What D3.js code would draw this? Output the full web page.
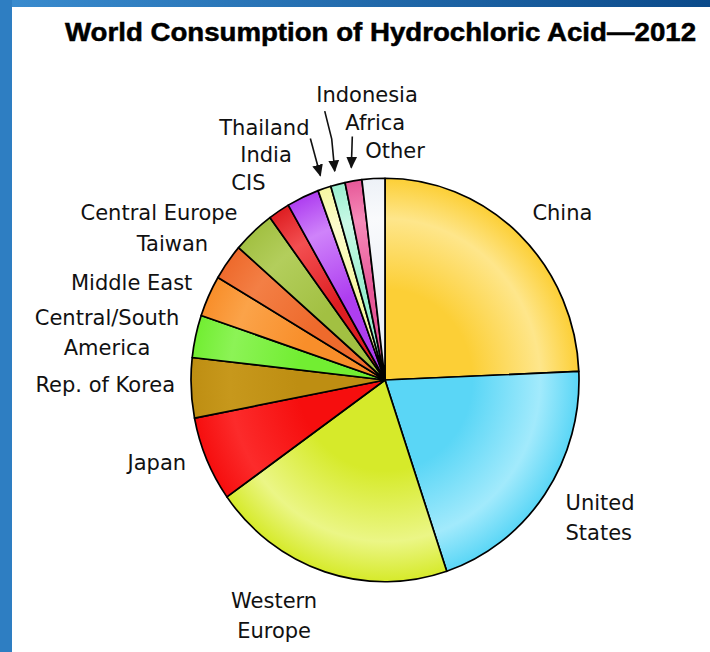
<!DOCTYPE html>
<html>
<head>
<meta charset="utf-8">
<script src="https://cdn.jsdelivr.net/npm/d3@7"></script>
<style>
  html, body { margin: 0; padding: 0; background: #fff; }
  svg { display: block; }
</style>
</head>
<body>
<svg id="chart" width="710" height="652"></svg>
<script>
// Share of world hydrochloric acid consumption, 2012 (percent), clockwise from 12 o'clock
const regions = ["China", "United States", "Western Europe", "Japan", "Rep. of Korea",
  "Central/South America", "Middle East", "Taiwan", "Central Europe", "CIS",
  "India", "Thailand", "Indonesia", "Africa", "Other"];
const shares = [24.3, 20.5, 20.3, 6.8, 4.8, 3.4, 3.3, 2.9, 3.5, 1.8, 2.7, 1.1, 1.2, 1.4, 1.9];
// label text lines for each region
const labelLines = [["China"], ["United", "States"], ["Western", "Europe"], ["Japan"], ["Rep. of Korea"],
  ["Central/South", "America"], ["Middle East"], ["Taiwan"], ["Central Europe"], ["CIS"],
  ["India"], ["Thailand"], ["Indonesia"], ["Africa"], ["Other"]];

const baseColors = ["#fccf36", "#5ad6f6", "#d6ea2a", "#f60e0e", "#be8e12",
  "#72ee32", "#f88e2a", "#ee6a2c", "#a2c042", "#de1e22",
  "#ae3ef0", "#f6f6a2", "#9aefcf", "#e65898", "#edf1f7"];
const lightColors = ["#fff2b8", "#c8f4ff", "#f6fdb8", "#ff3a3a", "#cc9e22",
  "#9af66a", "#fcae5a", "#f68a52", "#bcd66a", "#ff6a6a",
  "#e0a8ff", "#ffffe2", "#e2fff2", "#ffa6ca", "#ffffff"];

const svg = d3.select("#chart");
const W = 710, H = 652;

// page frame
const defs = svg.append("defs");
const topGrad = defs.append("linearGradient").attr("id", "frameTop").attr("x1", 0).attr("x2", 1);
topGrad.append("stop").attr("offset", 0).attr("stop-color", "#3a8ccf");
topGrad.append("stop").attr("offset", 1).attr("stop-color", "#0b4a8a");
svg.append("rect").attr("x", 0).attr("y", 0).attr("width", W).attr("height", H).attr("fill", "#fff");
svg.append("rect").attr("x", 0).attr("y", 0).attr("width", W).attr("height", 7).attr("fill", "url(#frameTop)");
svg.append("rect").attr("x", 0).attr("y", 0).attr("width", 12).attr("height", H).attr("fill", "#2e7ec2");

// title
svg.append("text")
  .attr("x", 65).attr("y", 41)
  .attr("textLength", 631).attr("lengthAdjust", "spacingAndGlyphs")
  .style("font-family", "'Liberation Sans Narrow', 'Liberation Sans', Arial, sans-serif")
  .style("font-weight", "bold").style("font-size", "25px")
  .attr("fill", "#000")
  .attr("stroke", "#000").attr("stroke-width", 0.5)
  .text("World Consumption of Hydrochloric Acid\u20142012");

// pie geometry (slightly taller than wide)
const cx = 385, cy = 380, R = 194, ky = 1.04;

const pie = d3.pie().sort(null).value(d => d);
const arcs = pie(shares);
const arc = d3.arc().innerRadius(0).outerRadius(R);

arcs.forEach((a, i) => {
  const hi = d3.interpolateRgb(baseColors[i], lightColors[i])(0.65);
  const g = defs.append("radialGradient")
    .attr("id", "sg" + i).attr("gradientUnits", "userSpaceOnUse")
    .attr("cx", 0).attr("cy", 0).attr("r", R);
  g.append("stop").attr("offset", 0).attr("stop-color", baseColors[i]);
  g.append("stop").attr("offset", 0.45).attr("stop-color", baseColors[i]);
  g.append("stop").attr("offset", 0.8).attr("stop-color", hi);
  g.append("stop").attr("offset", 1).attr("stop-color", baseColors[i]);
});

const pieG = svg.append("g").attr("transform", `translate(${cx},${cy}) scale(1,${ky})`);
pieG.selectAll("path.slice")
  .data(arcs)
  .join("path")
  .attr("class", "slice")
  .attr("d", arc)
  .attr("fill", (d, i) => `url(#sg${i})`)
  .attr("stroke", "#000")
  .attr("stroke-width", 1.7)
  .attr("stroke-linejoin", "round")
  .attr("vector-effect", "non-scaling-stroke");

// point on the (stretched) pie at angle a and radius r
const at = (a, r) => [cx + r * Math.sin(a), cy - r * Math.cos(a) * ky];

// label placement: anchor on the mid-angle ray, nudged so labels clear each other
const labelLayout = [
  { anchor: "start", dx: 0, dy: 0 },
  { anchor: "start", dx: 5, dy: 5 },
  { anchor: "middle", dx: -45, dy: 17 },
  { anchor: "end", dx: -3, dy: 3 },
  { anchor: "end", dx: 3, dy: 3 },
  { anchor: "middle", dx: -70, dy: -7 },
  { anchor: "end", dx: 1, dy: 2 },
  { anchor: "end", dx: -4, dy: 0 },
  { anchor: "end", dx: -3, dy: 3 },
  { anchor: "end", dx: -3, dy: -5 },
  { anchor: "end", dx: -3, dy: -17 },
  { anchor: "end", dx: -9, dy: -35 },
  { anchor: "start", dx: -17, dy: -63 },
  { anchor: "start", dx: -5, dy: -31 },
  { anchor: "start", dx: -7, dy: -1 }
];

const labelsG = svg.append("g")
  .style("font-family", "'DejaVu Sans', sans-serif")
  .style("font-size", "21px")
  .attr("fill", "#111");

arcs.forEach((a, i) => {
  const mid = (a.startAngle + a.endAngle) / 2;
  const [x, y] = at(mid, 213);
  const L = labelLayout[i];
  const t = labelsG.append("text")
    .attr("text-anchor", L.anchor)
    .attr("x", x + L.dx).attr("y", y + L.dy);
  labelLines[i].forEach((line, j) => {
    t.append("tspan").attr("x", x + L.dx).attr("dy", j === 0 ? 0 : 30).text(line);
  });
});

// pointer arrows for the narrow top slices
defs.append("marker")
  .attr("id", "arrowHead").attr("viewBox", "0 0 10 10")
  .attr("refX", 9).attr("refY", 5)
  .attr("markerWidth", 12).attr("markerHeight", 12)
  .attr("markerUnits", "userSpaceOnUse")
  .attr("orient", "auto")
  .append("path").attr("d", "M0,0.5 L10,5 L0,9.5 Z").attr("fill", "#111");

const pointers = [
  { region: "Thailand", path: [[-10, -37]] },
  { region: "Indonesia", path: [[-10, -60], [-3, -32]] },
  { region: "Africa", path: [[1, -31]] }
];
pointers.forEach(p => {
  const a = arcs[regions.indexOf(p.region)];
  const tip = at((a.startAngle + a.endAngle) / 2, 207);
  const pts = p.path.map(o => [tip[0] + o[0], tip[1] + o[1]]).concat([tip]);
  svg.append("path")
    .attr("d", d3.line()(pts))
    .attr("fill", "none")
    .attr("stroke", "#111")
    .attr("stroke-width", 1.6)
    .attr("marker-end", "url(#arrowHead)");
});
</script>
</body>
</html>
